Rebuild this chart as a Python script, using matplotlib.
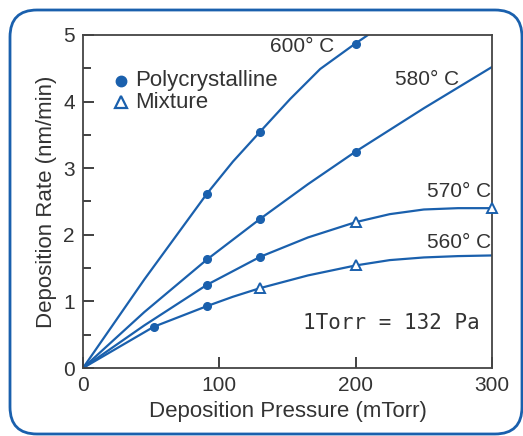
import matplotlib
matplotlib.use("Agg")
import matplotlib.pyplot as plt
from matplotlib.patches import FancyBboxPatch

# ---- data ----
# smooth fitted curves (x in mTorr, y in nm/min)
c600_x = [0, 45, 91, 110, 130, 152, 174, 199, 209]
c600_y = [0, 1.33, 2.62, 3.10, 3.55, 4.04, 4.49, 4.86, 5.0]
c580_x = [0, 45, 91, 130, 165, 200, 250, 300]
c580_y = [0, 0.84, 1.63, 2.24, 2.76, 3.25, 3.90, 4.52]
c570_x = [0, 45, 91, 130, 165, 200, 225, 250, 275, 300]
c570_y = [0, 0.64, 1.25, 1.67, 1.96, 2.19, 2.31, 2.38, 2.40, 2.40]
c560_x = [0, 52, 91, 110, 130, 165, 200, 225, 250, 275, 300]
c560_y = [0, 0.62, 0.93, 1.07, 1.20, 1.39, 1.54, 1.62, 1.66, 1.68, 1.69]

# measured points: polycrystalline (filled circles)
poly_x = [91, 130, 200, 91, 130, 200, 91, 130, 52, 91]
poly_y = [2.62, 3.55, 4.86, 1.63, 2.24, 3.25, 1.25, 1.67, 0.62, 0.93]
# measured points: mixture (open triangles)
mix_x = [200, 300, 130, 200]
mix_y = [2.19, 2.40, 1.20, 1.54]

temp_labels = ["600° C", "580° C", "570° C", "560° C"]
x_ticks = [0, 100, 200, 300]
y_ticks = [0, 1, 2, 3, 4, 5]

BLUE = "#1a60ad"
TXT = "#333333"

plt.rcParams["font.family"] = ["Liberation Sans", "DejaVu Sans"]

fig = plt.figure(figsize=(5.23, 4.36), dpi=100)
fig.patch.set_facecolor("white")

# rounded border
border = FancyBboxPatch((0.10, 0.02), 5.12, 4.24,
                        boxstyle="round,pad=0,rounding_size=0.27",
                        transform=fig.dpi_scale_trans, facecolor="none",
                        edgecolor=BLUE, linewidth=2.0, clip_on=False)
fig.patches.append(border)

ax = fig.add_axes([83 / 523, 1 - 368 / 436, (492 - 83) / 523, (368 - 35) / 436])

for cx, cy in [(c600_x, c600_y), (c580_x, c580_y), (c570_x, c570_y), (c560_x, c560_y)]:
    ax.plot(cx, cy, color=BLUE, lw=1.6, clip_on=True, zorder=2)

ax.plot(poly_x, poly_y, "o", color=BLUE, ms=5.5, zorder=3, clip_on=False)
ax.plot(mix_x, mix_y, "^", mfc="white", mec=BLUE, mew=1.4, ms=7.5, zorder=3, clip_on=False)

ax.set_xlim(0, 300)
ax.set_ylim(0, 5)
ax.set_xticks(x_ticks)
ax.set_yticks(y_ticks)
ax.set_yticks([0.5, 1.5, 2.5, 3.5, 4.5], minor=True)
ax.tick_params(axis="both", which="major", direction="in", length=8, width=1.3,
               colors=TXT, labelsize=15, pad=6)
ax.tick_params(axis="y", which="minor", direction="in", length=6, width=1.3, colors=TXT)
for s in ax.spines.values():
    s.set_color("#444444")
    s.set_linewidth(1.3)

ax.set_xlabel("Deposition Pressure (mTorr)", fontsize=16, color=TXT, labelpad=4)
ax.set_ylabel("Deposition Rate (nm/min)", fontsize=16, color=TXT, labelpad=4)

# temperature labels
ax.text(137, 4.82, temp_labels[0], fontsize=15, color=TXT, ha="left", va="center")
ax.text(229, 4.33, temp_labels[1], fontsize=15, color=TXT, ha="left", va="center")
ax.text(252, 2.65, temp_labels[2], fontsize=15, color=TXT, ha="left", va="center")
ax.text(252, 1.88, temp_labels[3], fontsize=15, color=TXT, ha="left", va="center")

# legend (manual)
ax.plot([28], [4.31], "o", color=BLUE, ms=7.5, clip_on=False)
ax.text(38, 4.31, "Polycrystalline", fontsize=16, color=TXT, va="center")
ax.plot([28], [3.99], "^", mfc="white", mec=BLUE, mew=1.6, ms=9, clip_on=False)
ax.text(38, 3.99, "Mixture", fontsize=16, color=TXT, va="center")

ax.text(291, 0.68, "1Torr = 132 Pa", fontsize=15, color=TXT, ha="right", va="center",
        family=["DejaVu Sans Mono"])

fig.savefig("out.png", dpi=100, facecolor="white")
